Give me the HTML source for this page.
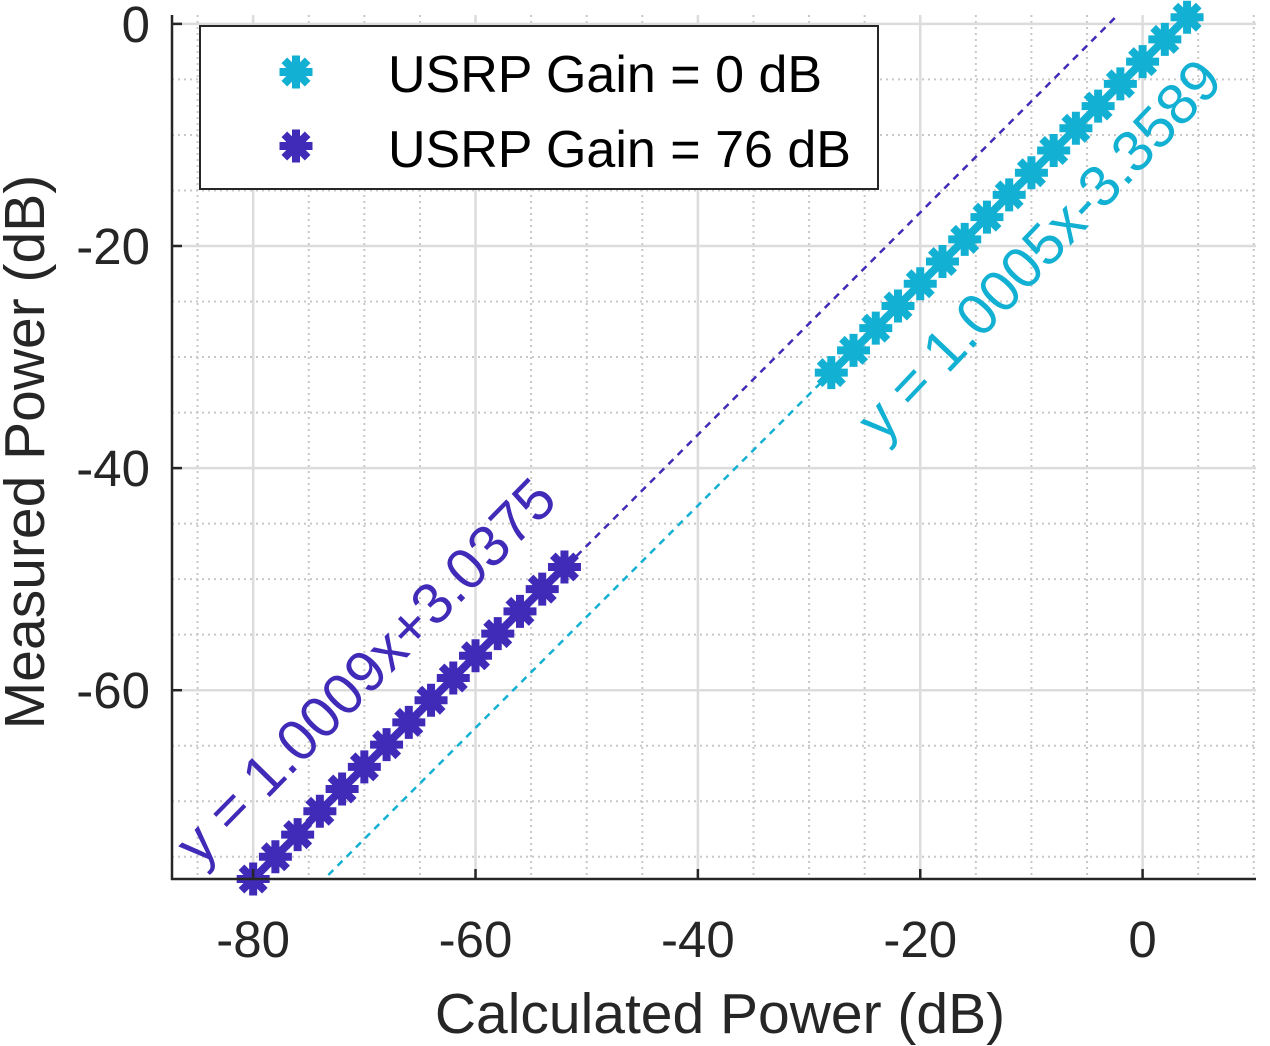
<!DOCTYPE html>
<html><head><meta charset="utf-8"><style>
html,body{margin:0;padding:0;background:#fff;}
svg{display:block;font-family:"Liberation Sans",Arial,sans-serif;}
</style></head><body>
<svg id="chart" width="1270" height="1046" viewBox="0 0 1270 1046" xmlns="http://www.w3.org/2000/svg">
<g id="grid"></g>
<g id="fits"></g>
<g id="series"></g>
<g id="axes"></g>
<text x="720" y="1033" font-size="57" text-anchor="middle" fill="#262626">Calculated Power (dB)</text>
<text transform="translate(44,452) rotate(-90)" font-size="57" text-anchor="middle" fill="#262626">Measured Power (dB)</text>
<text transform="translate(200,868) rotate(-45.5)" font-size="58" fill="#3f2bb8">y = 1.0009x+3.0375</text>
<text transform="translate(882,444) rotate(-46.5)" font-size="58" fill="#12b0d2">y = 1.0005x-3.3589</text>
<g>
<rect x="200" y="26" width="678" height="163" fill="#fff" stroke="#262626" stroke-width="2"/>
<g id="leg"></g>
<text x="388" y="92" font-size="52" fill="#000">USRP Gain = 0 dB</text>
<text x="388" y="167" font-size="52" fill="#000">USRP Gain = 76 dB</text>
</g>
</svg>
<script>
const xTicks=[-80,-60,-40,-20,0];
const yTicks=[-60,-40,-20,0];
const calc76=[-80,-78,-76,-74,-72,-70,-68,-66,-64,-62,-60,-58,-56,-54,-52];
const meas76=[-77.0,-75.0,-73.0,-70.9,-68.9,-66.9,-64.9,-62.9,-60.9,-58.9,-56.9,-54.9,-52.9,-50.9,-48.9];
const calc0=[-28,-26,-24,-22,-20,-18,-16,-14,-12,-10,-8,-6,-4,-2,0,2,4];
const meas0=[-31.4,-29.4,-27.4,-25.4,-23.4,-21.4,-19.4,-17.4,-15.4,-13.4,-11.4,-9.4,-7.4,-5.4,-3.4,-1.4,0.6];
const fit76=[1.0009,3.0375];
const fit0=[1.0005,-3.3589];
const X0=-87.3,X1=10.2,Y0=-77.0,Y1=0.8;
const L=172,R=1256,T=15,B=879;
const sx=v=>L+(v-X0)/(X1-X0)*(R-L);
const sy=v=>B-(v-Y0)/(Y1-Y0)*(B-T);
const NS='http://www.w3.org/2000/svg';
function mk(t,a,p){const e=document.createElementNS(NS,t);for(const k in a)e.setAttribute(k,a[k]);p.appendChild(e);return e;}
const grid=document.getElementById('grid');
for(let v=-85;v<=10;v+=5){if(v%20===0)continue;const el=mk('line',{x1:sx(v),x2:sx(v),y1:T,y2:B,stroke:'#c8c8c8','stroke-width':2,'stroke-dasharray':'2,4'},grid);

}
for(let v=-75;v<=0;v+=5){if(v%20===0)continue;const el=mk('line',{x1:L,x2:R,y1:sy(v),y2:sy(v),stroke:'#c8c8c8','stroke-width':2,'stroke-dasharray':'2,4'},grid);

}
xTicks.forEach(v=>{const el=mk('line',{x1:sx(v),x2:sx(v),y1:T,y2:B,stroke:'#dcdcdc','stroke-width':2.5},grid);

});
yTicks.forEach(v=>{const el=mk('line',{x1:L,x2:R,y1:sy(v),y2:sy(v),stroke:'#dcdcdc','stroke-width':2.5},grid);

});
const fits=document.getElementById('fits');
const cp=mk('clipPath',{id:'cp'},fits);mk('rect',{x:L,y:T,width:R-L,height:B-T},cp);
function fitLine(f,col,name){const el=mk('line',{x1:sx(X0),y1:sy(f[0]*X0+f[1]),x2:sx(X1),y2:sy(f[0]*X1+f[1]),stroke:col,'stroke-width':2.5,'stroke-dasharray':'7,6','clip-path':'url(#cp)'},fits);

}
fitLine(fit76,'#3f2bb8','fit-line-76db');
fitLine(fit0,'#12b0d2','fit-line-0db');
function star(g,x,y,col,r){for(let i=0;i<4;i++){const a=i*Math.PI/4;mk('line',{x1:x-r*Math.cos(a),y1:y-r*Math.sin(a),x2:x+r*Math.cos(a),y2:y+r*Math.sin(a),stroke:col,'stroke-width':8},g);}mk('circle',{cx:x,cy:y,r:r*0.65,fill:col},g);}
const series=document.getElementById('series');
function drawSeries(xs,ys,col,name){const g=mk('g',{},series);


mk('polyline',{points:xs.map((x,i)=>sx(x)+','+sy(ys[i])).join(' '),fill:'none',stroke:col,'stroke-width':6},g);
xs.forEach((x,i)=>{const p=mk('g',{},g);


star(p,sx(x),sy(ys[i]),col,16.5);});}
drawSeries(calc76,meas76,'#3f2bb8','series-gain-76db');
drawSeries(calc0,meas0,'#12b0d2','series-gain-0db');
const axes=document.getElementById('axes');
mk('line',{x1:L,x2:L,y1:T,y2:B+1,stroke:'#262626','stroke-width':2.5},axes);
mk('line',{x1:L-1,x2:R,y1:B,y2:B,stroke:'#262626','stroke-width':2.5},axes);
xTicks.forEach(v=>{mk('line',{x1:sx(v),x2:sx(v),y1:B,y2:B-10,stroke:'#262626','stroke-width':2.5},axes);
const t=mk('text',{x:sx(v),y:957,'font-size':51,'text-anchor':'middle',fill:'#262626'},axes);t.textContent=v;

});
yTicks.forEach(v=>{mk('line',{x1:L,x2:L+10,y1:sy(v),y2:sy(v),stroke:'#262626','stroke-width':2.5},axes);
const t=mk('text',{x:150,y:sy(v)+18,'font-size':51,'text-anchor':'end',fill:'#262626'},axes);t.textContent=v;

});
const leg=document.getElementById('leg');
star(leg,296,72,'#12b0d2',16.5);
star(leg,296,146,'#3f2bb8',16.5);
</script>
</body></html>
